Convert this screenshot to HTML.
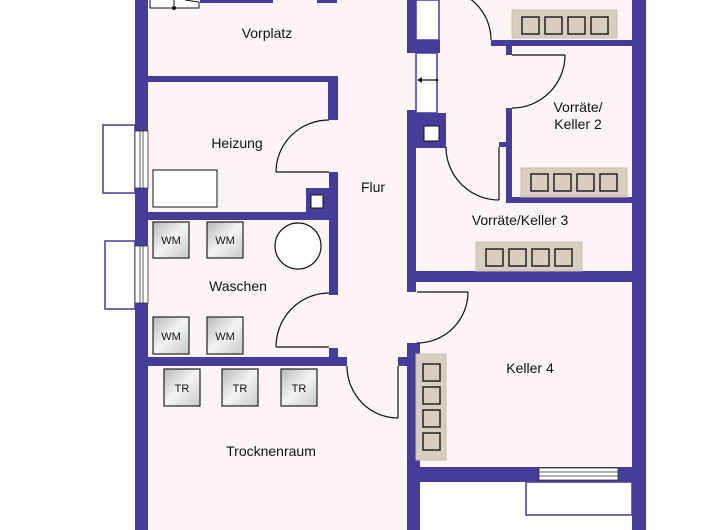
<!DOCTYPE html>
<html><head><meta charset="utf-8"><style>
html,body{margin:0;padding:0;background:#fff;}
svg{display:block;}
text{font-family:"Liberation Sans",sans-serif;fill:#111;}
</style></head><body>
<svg width="720" height="530" viewBox="0 0 720 530" xmlns="http://www.w3.org/2000/svg">
<defs>
<linearGradient id="g" x1="0" y1="0" x2="1" y2="1">
<stop offset="0" stop-color="#b8b8b8"/><stop offset="0.5" stop-color="#f4f4f4"/><stop offset="1" stop-color="#c8c8c8"/>
</linearGradient>
</defs>
<!-- interior -->
<rect x="148" y="0" width="484" height="482" fill="#fdf5f5"/>
<rect x="148" y="482" width="260" height="48" fill="#fdf5f5"/>
<rect x="420" y="482" width="212" height="48" fill="#fff"/>
<g fill="#463c9a">
<!-- outer walls -->
<rect x="135" y="0" width="13" height="530"/>
<rect x="632" y="0" width="14" height="530"/>
<rect x="200" y="0" width="73" height="3"/>
<rect x="317" y="0" width="20" height="3"/>
<!-- Vorplatz/Heizung -->
<rect x="148" y="76" width="190" height="6"/>
<rect x="328" y="76" width="10" height="44"/>
<rect x="329" y="172" width="9" height="123"/>
<rect x="306" y="188" width="32" height="24"/>
<rect x="148" y="212" width="190" height="8"/>
<rect x="329" y="348" width="9" height="9"/>
<rect x="148" y="357" width="199" height="9"/>
<rect x="398" y="357" width="10" height="9"/>
<!-- Flur right wall -->
<rect x="407" y="0" width="9" height="53"/>
<rect x="407" y="40" width="33" height="13"/>
<rect x="407" y="110" width="9" height="182"/>
<rect x="416" y="113" width="30" height="35"/>
<rect x="407" y="343" width="13" height="187"/>
<!-- Keller2 -->
<rect x="491" y="40" width="141" height="6"/>
<rect x="506" y="42" width="6" height="13"/>
<rect x="506" y="108" width="6" height="95"/>
<rect x="506" y="197" width="126" height="6"/>
<rect x="499" y="142" width="9" height="5"/>
<!-- Keller3/4 -->
<rect x="416" y="271" width="216" height="11"/>
<rect x="416" y="467" width="216" height="15"/>
</g>
<!-- windows -->
<g fill="#fff" stroke="#463c9a" stroke-width="1.5">
<rect x="103" y="125" width="32" height="68"/>
<rect x="105" y="241" width="30" height="68"/>
<rect x="526" y="482" width="106" height="33"/>
<rect x="416" y="0" width="23" height="40"/>
<rect x="416" y="53" width="21" height="60"/>
</g>
<g fill="#fff" stroke="#333" stroke-width="0.8">
<rect x="135" y="131" width="13" height="57"/><line x1="140" y1="131" x2="140" y2="188"/><line x1="143" y1="131" x2="143" y2="188"/>
<rect x="135" y="246" width="13" height="57"/><line x1="140" y1="246" x2="140" y2="303"/><line x1="143" y1="246" x2="143" y2="303"/>
<rect x="539" y="468" width="79" height="12"/><line x1="539" y1="472" x2="618" y2="472"/><line x1="539" y1="476" x2="618" y2="476"/>
</g>
<!-- arrow in window -->
<g stroke="#111" stroke-width="1.2"><line x1="418" y1="80" x2="437" y2="80"/></g>
<polygon points="417,80 422,77 422,83" fill="#111"/><circle cx="437" cy="80" r="1.3" fill="#111"/>
<!-- top-left item -->
<path d="M150 0 V8 H199 V2 L185 0" fill="#fff" stroke="#111" stroke-width="1"/>
<line x1="174" y1="0" x2="174" y2="8" stroke="#111"/><circle cx="174" cy="8" r="2" fill="#111"/>
<!-- small squares -->
<rect x="311" y="195" width="12" height="13" fill="#fff" stroke="#111"/>
<rect x="424" y="126" width="15" height="15" fill="#fff" stroke="#111"/>
<!-- Heizung rect -->
<rect x="153" y="170" width="64" height="37" fill="#fff" stroke="#111"/>
<!-- doors -->
<g fill="none" stroke="#111" stroke-width="1.2">
<path d="M276 172 H329"/><path d="M276 172 A53 52 0 0 1 329 120"/>
<path d="M276 347 H329"/><path d="M276 347 A53 54 0 0 1 329 293"/>
<path d="M398 366 V418"/><path d="M347 366 A51 52 0 0 0 398 418"/>
<path d="M417 292 H468"/><path d="M468 292 A51 51 0 0 1 417 343"/>
<path d="M499 147 V200"/><path d="M446 147 A53 53 0 0 0 499 200"/>
<path d="M512 55 H565"/><path d="M565 55 A53 53 0 0 1 512 108"/>
<path d="M491 40 A51 51 0 0 0 440 -11"/>
</g>
<!-- shelves -->
<g fill="#d8cdbf" stroke="#c9bdae" stroke-width="1">
<rect x="512" y="10" width="105" height="28"/>
<rect x="521" y="168" width="106" height="29"/>
<rect x="476" y="242" width="106" height="29"/>
<rect x="416" y="354" width="30" height="106"/>
</g>
<g fill="none" stroke="#222" stroke-width="1.5">
<rect x="522" y="17" width="17" height="17"/><rect x="545" y="17" width="17" height="17"/><rect x="568" y="17" width="17" height="17"/><rect x="591" y="17" width="17" height="17"/>
<rect x="531" y="174" width="17" height="17"/><rect x="554" y="174" width="17" height="17"/><rect x="577" y="174" width="17" height="17"/><rect x="600" y="174" width="17" height="17"/>
<rect x="486" y="249" width="17" height="17"/><rect x="509" y="249" width="17" height="17"/><rect x="532" y="249" width="17" height="17"/><rect x="555" y="249" width="17" height="17"/>
<rect x="423" y="364" width="17" height="17"/><rect x="423" y="387" width="17" height="17"/><rect x="423" y="410" width="17" height="17"/><rect x="423" y="433" width="17" height="17"/>
</g>
<!-- appliances -->
<g fill="url(#g)" stroke="#222" stroke-width="1.2">
<rect x="153" y="222" width="36" height="36"/><rect x="207" y="222" width="36" height="36"/>
<rect x="153" y="317" width="36" height="37"/><rect x="207" y="317" width="36" height="37"/>
<rect x="164" y="369" width="36" height="37"/><rect x="222" y="369" width="36" height="37"/><rect x="281" y="369" width="36" height="37"/>
</g>
<circle cx="298" cy="246" r="23" fill="#fff" stroke="#111" stroke-width="1.2"/>
<g font-size="11" text-anchor="middle">
<text x="171" y="244">WM</text><text x="225" y="244">WM</text>
<text x="171" y="340">WM</text><text x="225" y="340">WM</text>
<text x="182" y="392">TR</text><text x="240" y="392">TR</text><text x="299" y="392">TR</text>
</g>
<g font-size="14" text-anchor="middle">
<text x="267" y="38">Vorplatz</text>
<text x="237" y="148">Heizung</text>
<text x="373" y="192">Flur</text>
<text x="578" y="112">Vorräte/</text>
<text x="578" y="129">Keller 2</text>
<text x="520" y="225">Vorräte/Keller 3</text>
<text x="238" y="291">Waschen</text>
<text x="530" y="373">Keller 4</text>
<text x="271" y="456">Trocknenraum</text>
</g>
</svg>
</body></html>
